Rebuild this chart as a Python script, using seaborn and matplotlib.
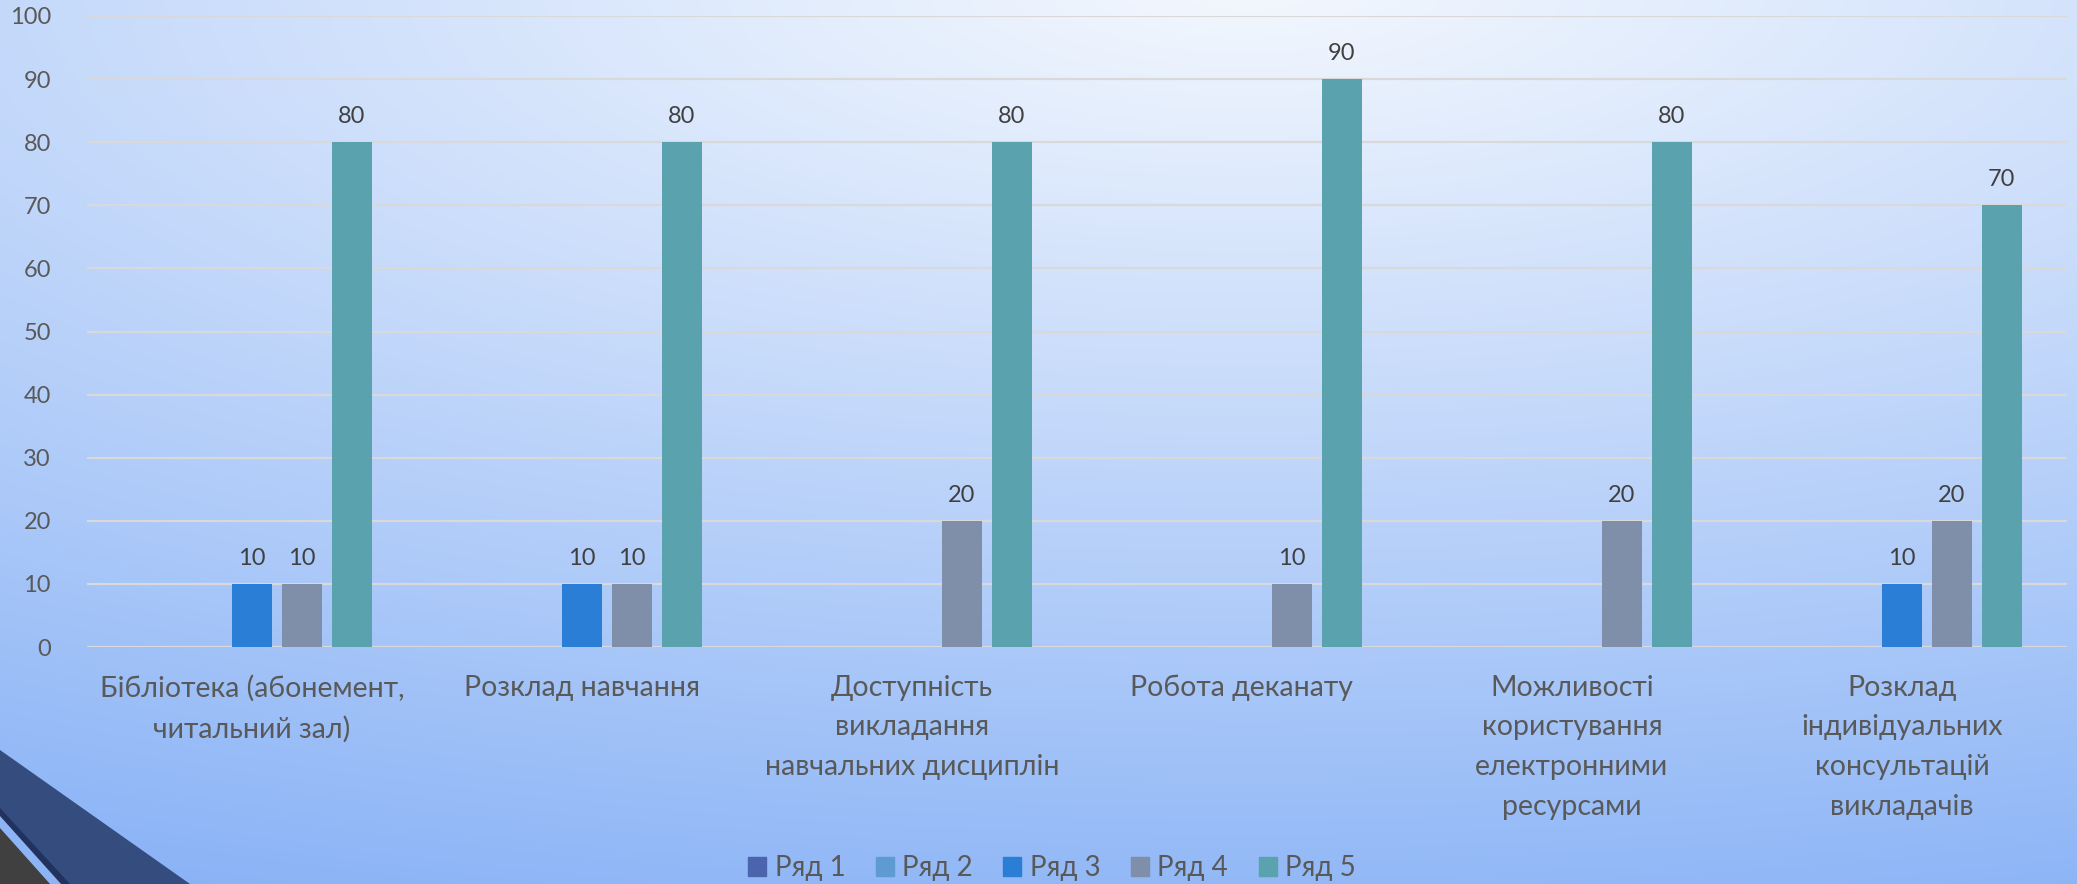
import numpy as np
import pandas as pd
import matplotlib.pyplot as plt
import seaborn as sns
from matplotlib.patches import Patch, Polygon
from matplotlib.colors import to_rgb

categories = [
    "Бібліотека (абонемент,\nчитальний зал)",
    "Розклад навчання",
    "Доступність\nвикладання\nнавчальних дисциплін",
    "Робота деканату",
    "Можливості\nкористування\nелектронними\nресурсами",
    "Розклад\nіндивідуальних\nконсультацій\nвикладачів",
]
series = ["Ряд 1", "Ряд 2", "Ряд 3", "Ряд 4", "Ряд 5"]
row1 = [0, 0, 0, 0, 0, 0]
row2 = [0, 0, 0, 0, 0, 0]
row3 = [10, 10, 0, 0, 0, 10]
row4 = [10, 10, 20, 10, 20, 20]
row5 = [80, 80, 80, 90, 80, 70]
colors = ["#4A64AE", "#5F9BD3", "#2A7ED6", "#7F8FA9", "#5AA2AE"]

rows = [row1, row2, row3, row4, row5]
df = pd.DataFrame({
    "category": [c for r in rows for c in categories],
    "series": [s for s, r in zip(series, rows) for _ in r],
    "value": [v for r in rows for v in r],
})

sns.set_theme(style="white")
plt.rcParams["font.family"] = ["Lato", "DejaVu Sans"]

W, H = 2077, 884
fig = plt.figure(figsize=(W / 100, H / 100), dpi=100)

# background gradient + corner decoration
bg = fig.add_axes([0, 0, 1, 1], zorder=-10)
yy, xx = np.mgrid[0:H:4, 0:W:4]
r = np.sqrt(((xx - 0.6 * W) / 2770) ** 2 + ((yy + 20) / 980) ** 2)
r = np.clip(r, 0, 1)[..., None]
c0 = np.array(to_rgb("#F4F8FE"))
c1 = np.array(to_rgb("#8AB3F6"))
img = c0 * (1 - r) + c1 * r
bg.imshow(img, extent=[0, W, H, 0], aspect="auto", interpolation="bilinear")
bg.add_patch(Polygon([(0, 750), (190, H), (0, H)], closed=True, color="#354C7F", lw=0))
bg.add_patch(Polygon([(0, 808), (70, H), (0, H)], closed=True, color="#22325E", lw=0))
bg.add_patch(Polygon([(0, 816), (61, H), (0, H)], closed=True, color="#8DB4F5", lw=0))
bg.add_patch(Polygon([(0, 828), (50, H), (0, H)], closed=True, color="#404040", lw=0))
bg.set_xlim(0, W)
bg.set_ylim(H, 0)
bg.axis("off")

ax = fig.add_axes([87 / W, 1 - 647 / H, (2067 - 87) / W, (647 - 16) / H])
ax.set_facecolor("none")

sns.barplot(data=df, x="category", y="value", hue="series", palette=colors,
            width=0.756, gap=0.2, saturation=1, linewidth=0, legend=False,
            ax=ax, zorder=3)

for cont in ax.containers:
    labels = [f"{b.get_height():g}" if b.get_height() > 0 else "" for b in cont]
    ax.bar_label(cont, labels=labels, padding=11, fontsize=17, color="#404040")

ax.set_ylim(0, 100)
ax.set_yticks(range(0, 101, 10))
ax.yaxis.grid(True, color="#D9D9D9", lw=1.6, zorder=0)
ax.set_axisbelow(True)
for s in ax.spines.values():
    s.set_visible(False)
ax.tick_params(axis="y", length=0, pad=26, labelsize=17, labelcolor="#595959")
ax.tick_params(axis="x", length=0, pad=20, labelsize=20.5, labelcolor="#595959")
for lab in ax.get_xticklabels():
    lab.set_linespacing(1.65)
ax.set_xlabel("")
ax.set_ylabel("")

handles = [Patch(color=c) for c in colors]
fig.legend(handles, series, loc="center", bbox_to_anchor=(1052 / W, 1 - 868 / H),
           ncol=5, frameon=False, handlelength=0.65, handleheight=0.65,
           columnspacing=1.1, handletextpad=0.3, fontsize=20, labelcolor="#595959")

plt.savefig("out.png", dpi=100)
